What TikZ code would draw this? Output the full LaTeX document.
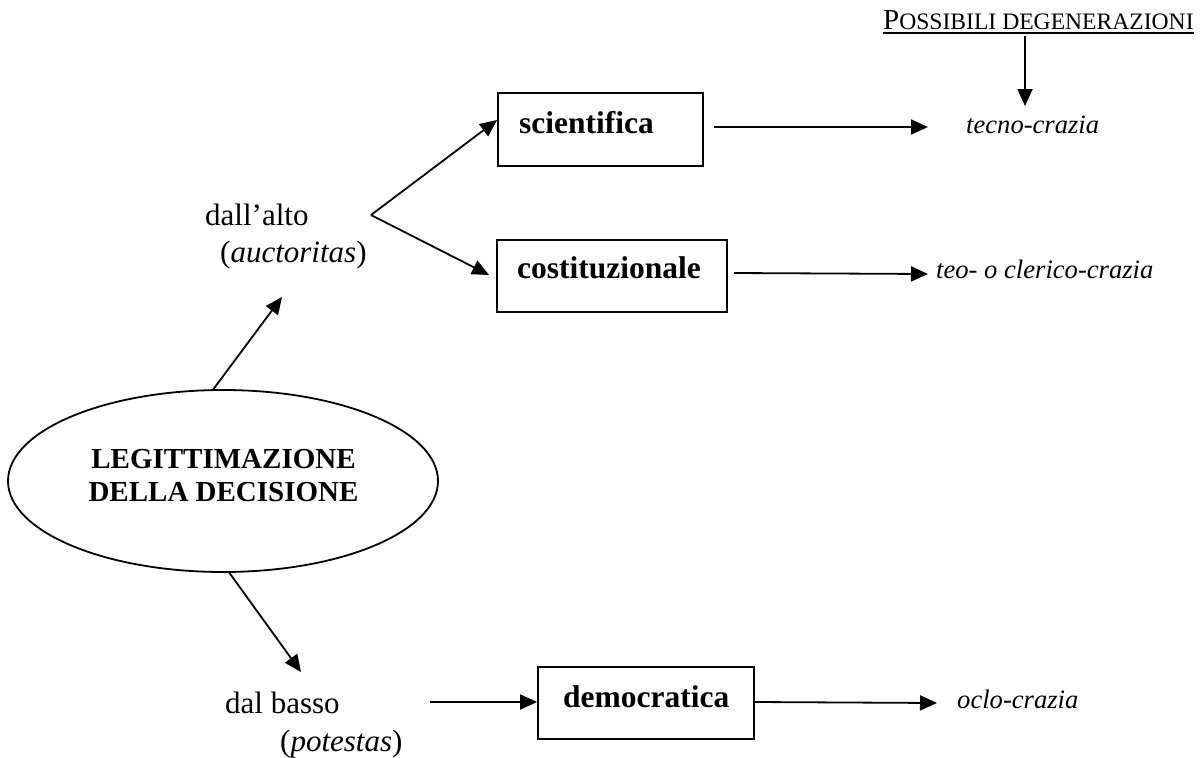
\documentclass[tikz,border=0pt]{standalone}
\usepackage{fontspec}
\setmainfont{Liberation Serif}
\usetikzlibrary{arrows.meta,shapes.geometric}
\begin{document}
\begin{tikzpicture}[x=1pt,y=-1pt,
  arr/.style={line width=1.8pt,-{Triangle[length=17pt,width=15pt]}},
  boxn/.style={draw,line width=1.8pt,inner sep=0pt},
  lbl/.style={anchor=base west,inner sep=0pt},
  bx/.style={font=\fontsize{31.5}{36}\selectfont\bfseries},
  rg/.style={font=\fontsize{31}{36}\selectfont},
  it/.style={font=\fontsize{26.6}{31}\selectfont\itshape}]
\useasboundingbox (0,0) rectangle (1203,758);

% header
\node[lbl] (poss) at (883,29) {{\fontsize{29}{34}\selectfont P}{\fontsize{23.6}{28}\selectfont OSSIBILI DEGENERAZIONI}};
\draw[line width=1.6pt] ([yshift=-4pt]poss.base west) -- ([yshift=-4pt]poss.base east);

% ellipse
\node[draw,ellipse,line width=1.8pt,minimum width=430,minimum height=182,inner sep=0pt] (leg) at (223,481) {};
\node[align=center,inner sep=0pt,font=\fontsize{29}{33}\selectfont\bfseries] (legt) at (223.5,476) {LEGITTIMAZIONE\\DELLA DECISIONE};

% upper branch
\node[lbl,rg] (alto) at (205,225) {dall’alto};
\node[lbl,rg] (auct) at (220,262) {(\textit{auctoritas})};
\coordinate (fork) at (371,215);

\node[boxn,minimum width=205,minimum height=73] (sci) at (600.5,129.5) {};
\node[lbl,bx] (scit) at (519,133) {scientifica};
\node[boxn,minimum width=230,minimum height=72] (cost) at (612,276) {};
\node[lbl,bx] (costt) at (517,278) {costituzionale};

\node[lbl,it] (tecno) at (966,133) {tecno-crazia};
\node[lbl,it] (teo) at (936,278) {teo- o clerico-crazia};

% lower branch
\node[lbl,rg] (basso) at (225,713) {dal basso};
\node[lbl,rg] (potes) at (280,751) {(\textit{potestas})};
\node[boxn,minimum width=216,minimum height=72] (demo) at (646,703) {};
\node[lbl,bx] (demot) at (563,707) {democratica};
\node[lbl,it] (oclo) at (957,708) {oclo-crazia};

% connectors
\draw[arr] ([xshift=142pt,yshift=-7pt]poss.base west) -- ([xshift=59pt,yshift=27pt]tecno.base west);
\draw[arr] (leg.96) -- ([xshift=62pt,yshift=-35pt]auct.base west);
\draw[arr] (fork) -- ([yshift=9.5pt]sci.west);
\draw[arr] (fork) -- ([xshift=-7pt,yshift=1pt]cost.west);
\draw[arr] ([xshift=10pt,yshift=2.5pt]sci.east) -- ([xshift=-38pt,yshift=6pt]tecno.base west);
\draw[arr] ([xshift=6pt,yshift=3pt]cost.east) -- ([xshift=-8pt,yshift=4pt]teo.base west);
\draw[arr] (leg.-86) -- ([xshift=76pt,yshift=41pt]basso.base west);
\draw[arr] ([xshift=205pt,yshift=11pt]basso.base west) -- ([yshift=1pt]demo.west);
\draw[arr] ([yshift=1pt]demo.east) -- ([xshift=-20pt,yshift=5pt]oclo.base west);
\end{tikzpicture}
\end{document}
